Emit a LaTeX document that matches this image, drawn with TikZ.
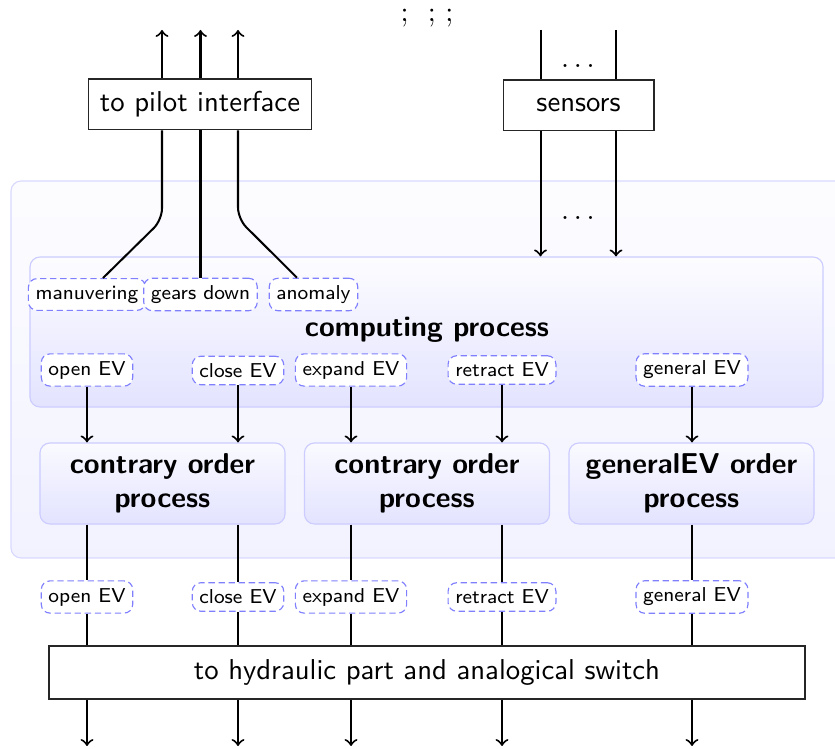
\documentclass[tikz,border=0pt]{standalone}
\usetikzlibrary{calc}
\begin{document}
\begin{tikzpicture}[x=0.348pt,y=-0.348pt,font=\sffamily]
\tikzset{
 lbl/.style={draw=blue!50, dash pattern=on 2.2pt off 1.3pt, rounded corners=3pt, fill=white, font=\sffamily\scriptsize, inner sep=2.5pt},
 plainbox/.style={draw=black!85, fill=white, font=\sffamily, inner sep=4pt, minimum height=17.7pt},
 orderbox/.style={draw=blue!20, rounded corners=3.5pt, top color=blue!2, bottom color=blue!11, font=\sffamily\bfseries, align=center, minimum width=85.3pt, minimum height=28.2pt},
 compbox/.style={draw=blue!20, rounded corners=3.5pt, top color=blue!1, bottom color=blue!11, minimum width=276pt, minimum height=52.2pt, inner sep=0pt},
 wire/.style={line width=0.7pt},
 arr/.style={wire, ->},
}
\useasboundingbox (0,0) rectangle (835,749);
\clip (0,0) rectangle (835,749);
% outer panel
\draw[draw=blue!15, rounded corners=3.5pt, top color=blue!1, bottom color=blue!5] (11,181) rectangle (870,558);
% top stray text
\node[font=\rmfamily, anchor=base] (semi) at (427,22) {;\ \ ;\ ;};
% pilot and sensors
\node[plainbox] (pilot) at (200,104.5) {to pilot interface};
\node[plainbox, minimum width=52.5pt] (sens) at (578.5,105.5) {sensors};
% computing process
\node[compbox] (comp) at (426.5,332) {};
\node[font=\sffamily\bfseries, anchor=base] (ctitle) at (427,337) {computing process};
\node[lbl] (man) at (87,294.5) {manuvering};
\node[lbl] (gears) at (200.5,294.5) {gears down};
\node[lbl] (anom) at (313.5,294.5) {anomaly};
\node[lbl] (oa) at (87,370) {open EV};
\node[lbl] (ca) at (238,370.5) {close EV};
\node[lbl] (ea) at (351,370) {expand EV};
\node[lbl] (ra) at (502,370) {retract EV};
\node[lbl] (ga) at (692,370) {general EV};
% order processes
\node[orderbox] (ord1) at (162.5,483.5) {contrary order\\process};
\node[orderbox] (ord2) at (427,483.5) {contrary order\\process};
\node[orderbox] (ord3) at (691.5,483.5) {generalEV order\\process};
% lower labels
\node[lbl] (ob) at (87,597) {open EV};
\node[lbl] (cb) at (238,597) {close EV};
\node[lbl] (eb) at (351,597) {expand EV};
\node[lbl] (rb) at (502,597) {retract EV};
\node[lbl] (gb) at (692,597) {general EV};
% hydraulic
\node[plainbox, minimum width=263.1pt, minimum height=18.4pt] (hyd) at (427,672.5) {to hydraulic part and analogical switch};
% coordinates
\coordinate (p1) at (162,30);
\coordinate (p2) at (200.5,30);
\coordinate (p3) at (238,30);
\coordinate (mb) at (162,220);
\coordinate (ab) at (238,219);
\coordinate (s1) at (540.5,30);
\coordinate (s2) at (616,30);
\coordinate (bot) at (0,746);
\node[anchor=base] (dots1) at (578,68) {$\ldots$};
\node[anchor=base] (dots2) at (578,220) {$\ldots$};
% pilot wires
\draw[arr] (pilot.north -| p1) -- (p1);
\draw[arr] (pilot.north -| p2) -- (p2);
\draw[arr] (pilot.north -| p3) -- (p3);
\draw[wire, rounded corners=4pt] (pilot.south -| mb) -- (mb) -- ($(man.north)+(16,0)$);
\draw[wire] (pilot.south -| gears.north) -- (gears.north);
\draw[wire, rounded corners=4pt] (pilot.south -| ab) -- (ab) -- ($(anom.north)+(-16.5,0)$);
% sensors wires
\draw[wire] (s1) -- (sens.north -| s1);
\draw[wire] (s2) -- (sens.north -| s2);
\draw[arr] (sens.south -| s1) -- (comp.north -| s1);
\draw[arr] (sens.south -| s2) -- (comp.north -| s2);
% to order boxes
\draw[arr] (oa.south) -- (ord1.north -| oa.south);
\draw[arr] (ca.south) -- (ord1.north -| ca.south);
\draw[arr] (ea.south) -- (ord2.north -| ea.south);
\draw[arr] (ra.south) -- (ord2.north -| ra.south);
\draw[arr] (ga.south) -- (ord3.north -| ga.south);
% order to lower labels
\draw[wire] (ord1.south -| ob.north) -- (ob.north);
\draw[wire] (ord1.south -| cb.north) -- (cb.north);
\draw[wire] (ord2.south -| eb.north) -- (eb.north);
\draw[wire] (ord2.south -| rb.north) -- (rb.north);
\draw[wire] (ord3.south -| gb.north) -- (gb.north);
% lower labels to hydraulic
\draw[wire] (ob.south) -- (hyd.north -| ob.south);
\draw[wire] (cb.south) -- (hyd.north -| cb.south);
\draw[wire] (eb.south) -- (hyd.north -| eb.south);
\draw[wire] (rb.south) -- (hyd.north -| rb.south);
\draw[wire] (gb.south) -- (hyd.north -| gb.south);
% outputs
\draw[arr] (hyd.south -| ob.south) -- (ob.south |- bot);
\draw[arr] (hyd.south -| cb.south) -- (cb.south |- bot);
\draw[arr] (hyd.south -| eb.south) -- (eb.south |- bot);
\draw[arr] (hyd.south -| rb.south) -- (rb.south |- bot);
\draw[arr] (hyd.south -| gb.south) -- (gb.south |- bot);
\end{tikzpicture}
\end{document}
